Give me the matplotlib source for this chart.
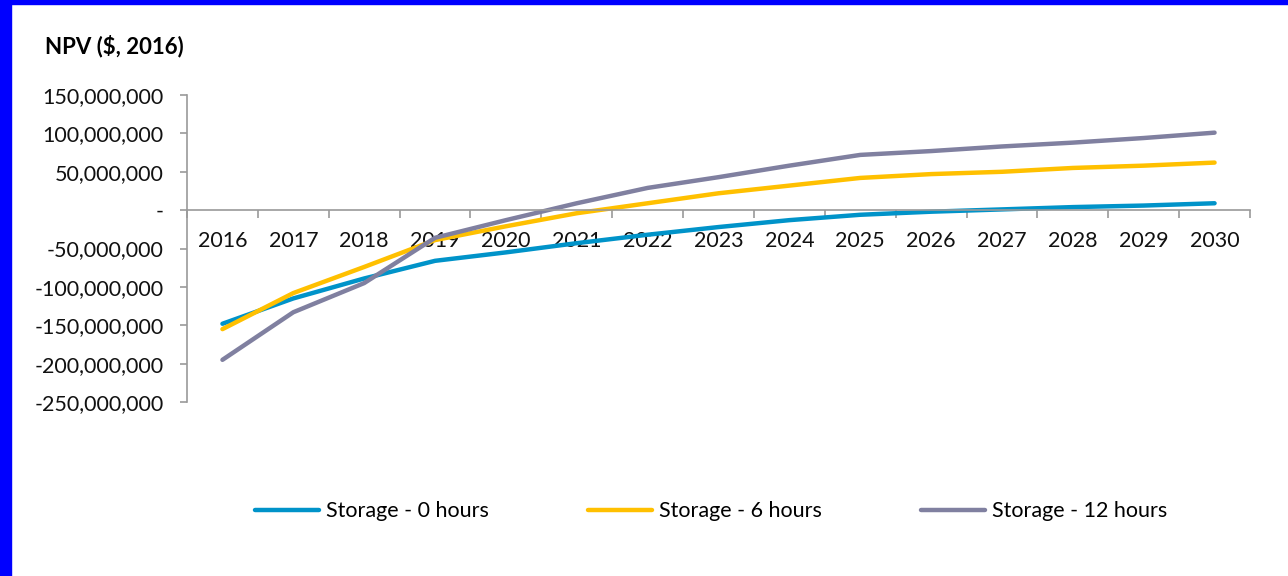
import numpy as np
import matplotlib.pyplot as plt
from matplotlib.patches import Rectangle

years = [str(y) for y in range(2016, 2031)]
storage_0h = [-148, -115, -89, -66, -55, -43, -32, -22, -13, -6, -2, 1, 4, 6, 9]
storage_6h = [-155, -108, -74, -39, -21, -4, 9, 22, 32, 42, 47, 50, 55, 58, 62]
storage_12h = [-195, -133, -95, -36, -13, 9, 29, 43, 58, 72, 77, 83, 88, 94, 101]
series_names = ['Storage - 0 hours', 'Storage - 6 hours', 'Storage - 12 hours']
colors = ['#0093C9', '#FFC000', '#8080A0']

plt.rcParams['font.family'] = ['Lato', 'DejaVu Sans']

fig = plt.figure(figsize=(12.88, 5.76), dpi=100)
ax = fig.add_axes([0.1452, 0.302, 0.8253, 0.533])

x = np.arange(len(years))
for vals, name, c in zip([storage_0h, storage_6h, storage_12h], series_names, colors):
    ax.plot(x, np.array(vals) * 1e6, color=c, lw=3.2, label=name, solid_capstyle='round')

ax.set_xlim(-0.5, len(years) - 0.5)
ax.set_ylim(-250e6, 150e6)
yt = np.arange(-250e6, 150e6 + 1, 50e6)
ax.set_yticks(yt)
ax.set_yticklabels(['-' if v == 0 else '{:,.0f}'.format(v) for v in yt], fontsize=15.5, color='#111111')

ax.spines['top'].set_visible(False)
ax.spines['right'].set_visible(False)
ax.spines['bottom'].set_position(('data', 0))
for s in ['left', 'bottom']:
    ax.spines[s].set_color('#9a9a9a')
    ax.spines[s].set_linewidth(1.2)

# category boundaries as major ticks, labels on minor ticks at centres
ax.set_xticks(np.arange(-0.5, len(years), 1.0))
ax.set_xticklabels([])
ax.set_xticks(x, minor=True)
ax.set_xticklabels(years, minor=True, fontsize=15.5, color='#111111')
ax.tick_params(axis='x', which='major', length=6, color='#9a9a9a', width=1.2)
ax.tick_params(axis='x', which='minor', length=0, pad=15)
ax.tick_params(axis='y', length=5, color='#9a9a9a', width=1.2, pad=12)

fig.text(0.035, 0.92, 'NPV ($, 2016)', fontsize=16, fontweight='bold', ha='left', va='center')

fig.legend(loc='center', bbox_to_anchor=(0.552, 0.112), ncol=3, frameon=False,
           fontsize=15.5, columnspacing=4.6, handlelength=3.0, handletextpad=0.3)

# blue frame on left and top edges
fig.patches.append(Rectangle((0, 0), 11 / 1288, 1, transform=fig.transFigure, color='#0000FF', zorder=10))
fig.patches.append(Rectangle((0, 1 - 4 / 576), 1, 4 / 576, transform=fig.transFigure, color='#0000FF', zorder=10))

plt.savefig('out.png', dpi=100)
